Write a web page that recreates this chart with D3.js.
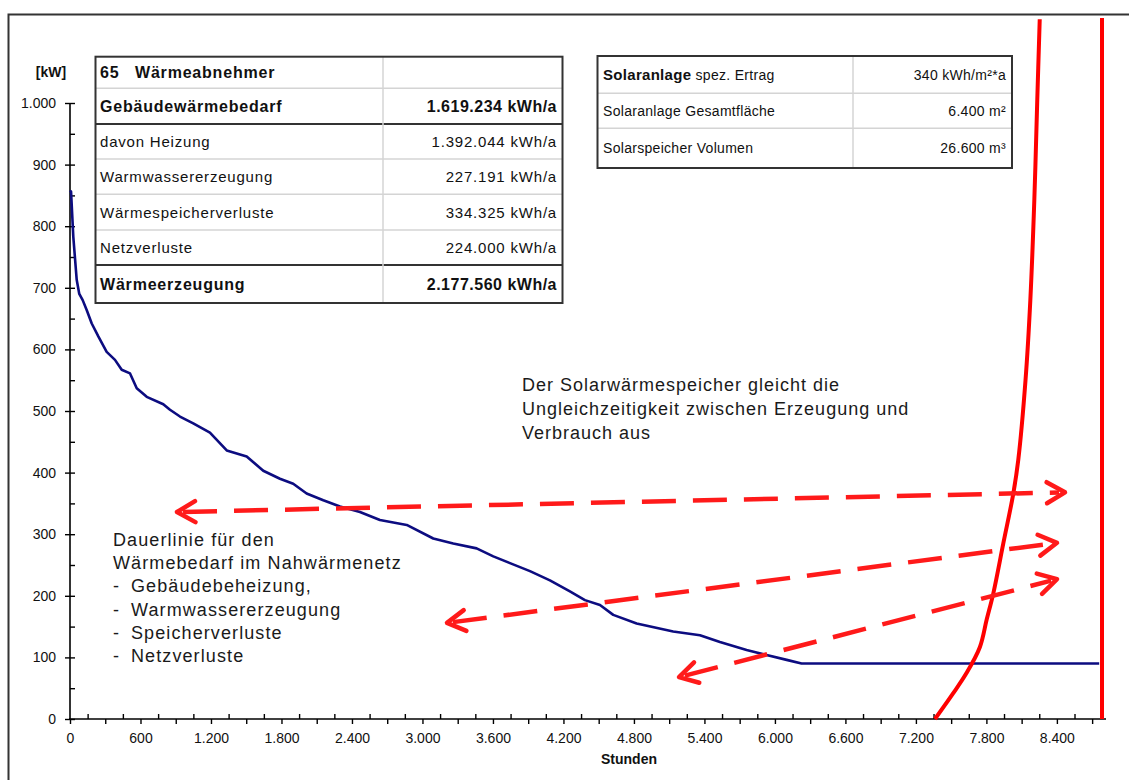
<!DOCTYPE html>
<html><head><meta charset="utf-8">
<script src="https://cdn.jsdelivr.net/npm/d3@7"></script>
<style>body{margin:0;background:#fff}svg{display:block}</style>
</head><body><svg id="c" width="1129" height="780"></svg>
<script>
// ---------- data ----------
const hours = [0, 9, 28, 57, 79, 108, 142, 185, 241, 312, 383, 440, 511, 568, 653, 794, 851, 936, 1049, 1191, 1334, 1504, 1645, 1787, 1900, 2014, 2156, 2298, 2468, 2638, 2866, 3092, 3262, 3461, 3603, 3745, 3915, 4085, 4255, 4383, 4511, 4624, 4823, 5134, 5362, 5532, 5759, 5929, 6100, 6227, 8760];
const demandKW = [858, 856, 783, 713, 690, 680, 664, 642, 621, 596, 583, 567, 561, 537, 523, 511, 502, 491, 480, 465, 436, 426, 403, 390, 382, 366, 355, 345, 336, 323, 315, 293, 285, 277, 264, 253, 240, 225, 207, 193, 185, 169, 155, 142, 136, 125, 112, 104, 96, 90, 90];
const solarHours = [7362, 7518, 7632, 7745, 7802, 7859, 7944, 8029, 8071, 8133, 8174, 8208, 8233, 8254];
const solarKW = [0, 42, 75, 117, 161, 204, 285, 366, 420, 550, 680, 843, 1005, 1136];
const yearEndHour = 8784;
const yearEndTopKW = 1138;
// arrows: [startHour, startKW, endHour, endKW]
const arrowStartHours = [911, 3209, 5184];
const arrowStartKW = [336, 156, 68];
const arrowEndHours = [8469, 8401, 8401];
const arrowEndKW = [368, 286, 227];

const xLabelTicks = d3.range(0, 8401, 600);
const yLabelTicks = d3.range(0, 1001, 100);

const table1Labels = ["65", "Gebäudewärmebedarf", "davon Heizung", "Warmwassererzeugung", "Wärmespeicherverluste", "Netzverluste", "Wärmeerzeugung"];
const table1Values = ["", "1.619.234 kWh/a", "1.392.044 kWh/a", "227.191 kWh/a", "334.325 kWh/a", "224.000 kWh/a", "2.177.560 kWh/a"];
const table1Bold = [true, true, false, false, false, false, true];
const table2Labels = ["Solaranlage", "Solaranlage Gesamtfläche", "Solarspeicher Volumen"];
const table2Values = ["340 kWh/m²*a", "6.400 m²", "26.600 m³"];

const noteRight = ["Der Solarwärmespeicher gleicht die", "Ungleichzeitigkeit zwischen Erzeugung und", "Verbrauch aus"];
const noteLeftHead = ["Dauerlinie für den", "Wärmebedarf im Nahwärmenetz"];
const noteLeftItems = ["Gebäudebeheizung,", "Warmwassererzeugung", "Speicherverluste", "Netzverluste"];

// ---------- setup ----------
const FONT = "'Liberation Sans', Arial, sans-serif";
const svg = d3.select("#c");
const x = d3.scaleLinear().domain([0, yearEndHour]).range([70, 1102]);
const y = d3.scaleLinear().domain([0, 1000]).range([719, 103]);
const de = d3.formatLocale({decimal: ",", thousands: ".", grouping: [3], currency: ["", "€"]});
const fmt = de.format(",d");

// outer frame
svg.append("rect").attr("x", 8.5).attr("y", 14.5).attr("width", 1200).attr("height", 900)
  .attr("fill", "none").attr("stroke", "#333").attr("stroke-width", 2);

// ---------- axes ----------
const gx = svg.append("g").attr("transform", "translate(0,719)");
gx.call(d3.axisBottom(x).tickValues(d3.range(0, 8701, 300)).tickSize(5).tickPadding(9)
  .tickFormat(d => d % 600 === 0 ? fmt(d) : ""));
gx.call(g => g.select(".domain").remove());
const gx2 = svg.append("g").attr("transform", "translate(0,719)");
gx2.call(d3.axisBottom(x).tickValues(d3.range(150, 8701, 300)).tickSize(-5).tickFormat(""));
gx2.select(".domain").remove();
svg.append("line").attr("x1", 69).attr("x2", 1106).attr("y1", 719).attr("y2", 719)
  .attr("stroke", "#000").attr("stroke-width", 1.6);

const gy = svg.append("g").attr("transform", "translate(70,0)");
gy.call(d3.axisLeft(y).tickValues(yLabelTicks).tickSize(5).tickPadding(9).tickFormat(fmt));
gy.select(".domain").remove();
const gy2 = svg.append("g").attr("transform", "translate(70,0)");
gy2.call(d3.axisLeft(y).tickValues(d3.range(0, 1001, 50)).tickSize(-5).tickFormat(""));
gy2.select(".domain").remove();
svg.append("line").attr("x1", 70).attr("x2", 70).attr("y1", y(1000)).attr("y2", 720)
  .attr("stroke", "#000").attr("stroke-width", 1.6);

svg.selectAll(".tick line").attr("stroke", "#000").attr("stroke-width", 1.4);
svg.selectAll(".tick text").attr("font-family", FONT).attr("font-size", 14).attr("fill", "#111");

svg.append("text").attr("x", 51).attr("y", 77).attr("text-anchor", "middle")
  .attr("font-family", FONT).attr("font-size", 14).attr("font-weight", "bold").attr("fill", "#111").text("[kW]");
svg.append("text").attr("x", 629).attr("y", 764).attr("text-anchor", "middle")
  .attr("font-family", FONT).attr("font-size", 14).attr("font-weight", "bold").attr("fill", "#111").text("Stunden");

// ---------- series ----------
const demand = hours.map((h, i) => [h, demandKW[i]]);
svg.append("path").datum(demand)
  .attr("d", d3.line().x(d => x(d[0])).y(d => y(d[1])))
  .attr("fill", "none").attr("stroke", "#0c0c80").attr("stroke-width", 2.6).attr("stroke-linejoin", "round");

const solar = solarHours.map((h, i) => [h, solarKW[i]]);
svg.append("path").datum(solar)
  .attr("d", d3.line().curve(d3.curveCatmullRom.alpha(0.5)).x(d => x(d[0])).y(d => y(d[1])))
  .attr("fill", "none").attr("stroke", "#ff0000").attr("stroke-width", 4);

svg.append("line").attr("x1", x(yearEndHour)).attr("x2", x(yearEndHour))
  .attr("y1", y(0)).attr("y2", y(yearEndTopKW))
  .attr("stroke", "#ff0000").attr("stroke-width", 4);

// ---------- arrows ----------
function head(px, py, ang) {
  const L = 21, a = 30 * Math.PI / 180;
  const p1 = [px - L * Math.cos(ang - a), py - L * Math.sin(ang - a)];
  const p2 = [px - L * Math.cos(ang + a), py - L * Math.sin(ang + a)];
  return `M${p1[0]},${p1[1]}L${px},${py}L${p2[0]},${p2[1]}`;
}
arrowStartHours.forEach((h, i) => {
  const x1 = x(h), y1 = y(arrowStartKW[i]), x2 = x(arrowEndHours[i]), y2 = y(arrowEndKW[i]);
  const ang = Math.atan2(y2 - y1, x2 - x1);
  svg.append("line").attr("x1", x1 + 6 * Math.cos(ang)).attr("y1", y1 + 6 * Math.sin(ang))
    .attr("x2", x2 - 6 * Math.cos(ang)).attr("y2", y2 - 6 * Math.sin(ang))
    .attr("stroke", "#ff1a1a").attr("stroke-width", 4.5).attr("stroke-dasharray", "34,17");
  svg.append("path").attr("d", head(x2, y2, ang)).attr("fill", "none")
    .attr("stroke", "#ff1a1a").attr("stroke-width", 4.5).attr("stroke-linecap", "round").attr("stroke-linejoin", "round");
  svg.append("path").attr("d", head(x1, y1, ang + Math.PI)).attr("fill", "none")
    .attr("stroke", "#ff1a1a").attr("stroke-width", 4.5).attr("stroke-linecap", "round").attr("stroke-linejoin", "round");
});

// ---------- annotation texts ----------
const tR = svg.append("text").attr("font-family", FONT).attr("font-size", 18).attr("letter-spacing", 1)
  .attr("fill", "#1a1a1a");
noteRight.forEach((s, i) => tR.append("tspan").attr("x", 522).attr("y", 391 + i * 24).text(s));

const tL = svg.append("text").attr("font-family", FONT).attr("font-size", 18).attr("letter-spacing", 1.1)
  .attr("fill", "#1a1a1a");
noteLeftHead.forEach((s, i) => tL.append("tspan").attr("x", 113).attr("y", 546 + i * 23.2).text(s));
noteLeftItems.forEach((s, i) => {
  tL.append("tspan").attr("x", 113).attr("y", 592.4 + i * 23.2).text("-");
  tL.append("tspan").attr("x", 131).attr("y", 592.4 + i * 23.2).text(s);
});

// ---------- table 1 ----------
const t1 = svg.append("g");
const t1L = 95.5, t1R = 562.5, t1Mid = 383;
const t1Rows = [56.7, 88.3, 124, 159, 194.3, 230, 265, 303];
t1.append("rect").attr("x", t1L).attr("y", t1Rows[0]).attr("width", t1R - t1L).attr("height", t1Rows[7] - t1Rows[0])
  .attr("fill", "#fff").attr("stroke", "none");
for (let i = 1; i < 7; i++) {
  const thick = (i === 2 || i === 6);
  t1.append("line").attr("x1", t1L).attr("x2", t1R).attr("y1", t1Rows[i]).attr("y2", t1Rows[i])
    .attr("stroke", thick ? "#333" : "#d4d4d4").attr("stroke-width", thick ? 2 : 1.5);
}
t1.append("line").attr("x1", t1Mid).attr("x2", t1Mid).attr("y1", t1Rows[0]).attr("y2", t1Rows[7])
  .attr("stroke", "#d4d4d4").attr("stroke-width", 1.5);
t1.append("rect").attr("x", t1L).attr("y", t1Rows[0]).attr("width", t1R - t1L).attr("height", t1Rows[7] - t1Rows[0])
  .attr("fill", "none").attr("stroke", "#333").attr("stroke-width", 2);
table1Labels.forEach((s, i) => {
  const cy = (t1Rows[i] + t1Rows[i + 1]) / 2;
  const b = table1Bold[i];
  const fs = b ? 16 : 15;
  const t = t1.append("text").attr("x", 100).attr("y", cy + fs * 0.36)
    .attr("font-family", FONT).attr("font-size", fs).attr("font-weight", b ? "bold" : "normal")
    .attr("letter-spacing", 0.8).attr("fill", "#111");
  if (i === 0) {
    t.append("tspan").text(s);
    t.append("tspan").attr("x", 135).text("Wärmeabnehmer");
  } else t.text(s);
  t1.append("text").attr("x", 557).attr("y", cy + fs * 0.36).attr("text-anchor", "end")
    .attr("font-family", FONT).attr("font-size", b ? 16 : 15).attr("font-weight", b ? "bold" : "normal")
    .attr("letter-spacing", b ? 0.5 : 0.8).attr("fill", "#111").text(table1Values[i]);
});

// ---------- table 2 ----------
const t2 = svg.append("g");
const t2L = 597.5, t2R = 1012, t2Mid = 853;
const t2Rows = [56, 93.3, 128.3, 168];
t2.append("rect").attr("x", t2L).attr("y", t2Rows[0]).attr("width", t2R - t2L).attr("height", t2Rows[3] - t2Rows[0])
  .attr("fill", "#fff");
for (let i = 1; i < 3; i++) {
  t2.append("line").attr("x1", t2L).attr("x2", t2R).attr("y1", t2Rows[i]).attr("y2", t2Rows[i])
    .attr("stroke", "#d4d4d4").attr("stroke-width", 1.5);
}
t2.append("line").attr("x1", t2Mid).attr("x2", t2Mid).attr("y1", t2Rows[0]).attr("y2", t2Rows[3])
  .attr("stroke", "#d4d4d4").attr("stroke-width", 1.5);
t2.append("rect").attr("x", t2L).attr("y", t2Rows[0]).attr("width", t2R - t2L).attr("height", t2Rows[3] - t2Rows[0])
  .attr("fill", "none").attr("stroke", "#333").attr("stroke-width", 2);
table2Labels.forEach((s, i) => {
  const cy = (t2Rows[i] + t2Rows[i + 1]) / 2;
  const t = t2.append("text").attr("x", 603).attr("y", cy + 5)
    .attr("font-family", FONT).attr("font-size", 14).attr("letter-spacing", 0.3).attr("fill", "#111");
  if (i === 0) {
    t.append("tspan").attr("font-weight", "bold").attr("font-size", 15).text(s);
    t.append("tspan").text(" spez. Ertrag");
  } else t.text(s);
  t2.append("text").attr("x", 1006).attr("y", cy + 5).attr("text-anchor", "end")
    .attr("font-family", FONT).attr("font-size", 14).attr("letter-spacing", 0.3).attr("fill", "#111").text(table2Values[i]);
});
</script></body></html>
